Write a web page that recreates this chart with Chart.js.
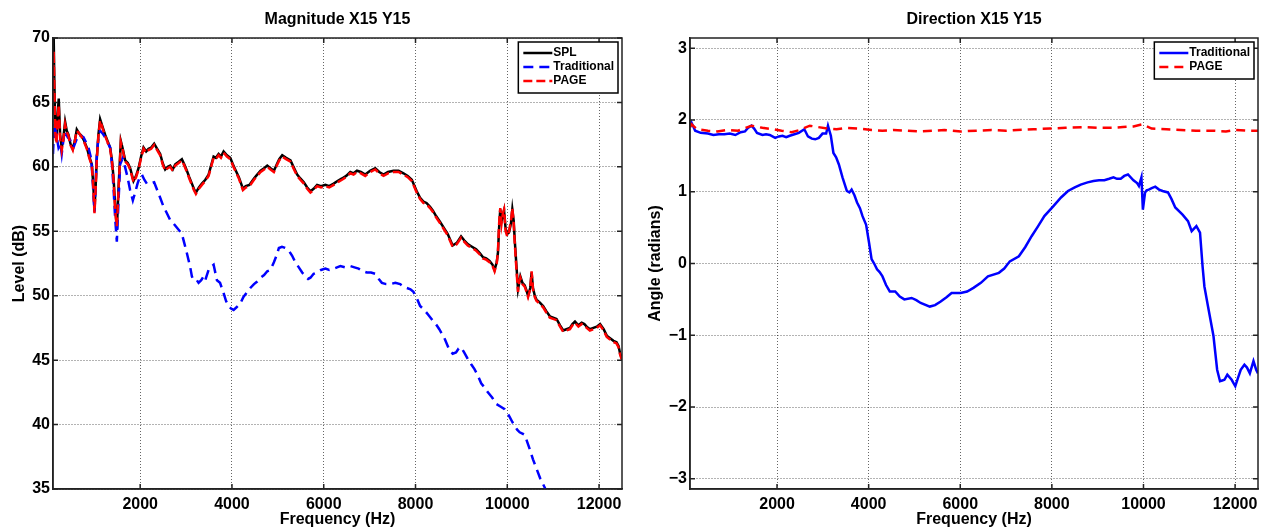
<!DOCTYPE html>
<html>
<head>
<meta charset="utf-8">
<script src="https://cdn.jsdelivr.net/npm/chart.js@4.4.1/dist/chart.umd.min.js"></script>
<style>
  body { margin: 0; background: #fff; }
  #wrap { position: relative; width: 1264px; height: 529px; }
  #wrap canvas { position: absolute; top: 0; }
</style>
</head>
<body>
<div id="wrap">
  <canvas id="mag" width="632" height="529" style="left:0"></canvas>
  <canvas id="dir" width="632" height="529" style="left:632px"></canvas>
</div>
<script>
// frequency tick labels shared by both panels
const freqTicks = [2000, 4000, 6000, 8000, 10000, 12000];

// ---- magnitude panel ----
const magFreq = [100, 115, 130, 150, 175, 200, 225, 255, 290, 325, 364, 400, 437, 480, 531, 575, 618, 670, 727, 780,
  837, 890, 946, 980, 1004, 1030, 1055, 1090, 1127, 1180, 1236, 1290, 1345, 1385, 1418, 1455, 1491, 1530, 1578, 1620,
  1673, 1730, 1782, 1855, 1910, 1964, 2020, 2073, 2130, 2182, 2240, 2305, 2370, 2436, 2490, 2545, 2600, 2654, 2710, 2764,
  2840, 2909, 2960, 3018, 3070, 3127, 3170, 3214, 3280, 3345, 3420, 3491, 3545, 3600, 3650, 3709, 3760, 3818, 3890, 3963,
  4020, 4072, 4150, 4239, 4300, 4380, 4480, 4550, 4624, 4700, 4769, 4840, 4914, 4978, 5030, 5095, 5180, 5276, 5340, 5421,
  5490, 5566, 5640, 5710, 5780, 5855, 5940, 6036, 6120, 6217, 6300, 6398, 6490, 6579, 6650, 6724, 6810, 6905, 7010, 7122,
  7210, 7303, 7400, 7520, 7630, 7738, 7830, 7919, 8027, 8100, 8172, 8240, 8317, 8380, 8445, 8540, 8628, 8700, 8810, 8900,
  8993, 9060, 9139, 9230, 9321, 9400, 9467, 9540, 9613, 9680, 9723, 9770, 9796, 9825, 9847, 9875, 9905, 9930, 9964, 10000,
  10037, 10080, 10110, 10140, 10161, 10200, 10234, 10260, 10285, 10330, 10380, 10420, 10453, 10500, 10530, 10560, 10600, 10635, 10700, 10781,
  10850, 10927, 11000, 11073, 11150, 11219, 11290, 11365, 11420, 11475, 11550, 11621, 11680, 11730, 11800, 11876, 11950, 12022, 12100, 12168,
  12240, 12314, 12380, 12424, 12460, 12500];

const splLevel = [65.5, 70.0, 66.5, 63.0, 62.0, 64.0, 65.3, 62.5, 61.5, 62.2, 63.5, 62.8, 62.5, 61.8, 61.4, 62.0, 62.9, 62.6, 62.4, 62.0,
  61.5, 60.8, 60.2, 58.5, 56.6, 58.5, 60.7, 62.5, 63.7, 63.1, 62.5, 62.0, 61.5, 60.5, 59.2, 57.0, 55.1, 58.5, 62.0, 61.4,
  60.5, 60.3, 59.9, 58.9, 59.3, 59.9, 60.8, 61.5, 61.2, 61.4, 61.5, 61.8, 61.4, 61.0, 60.3, 59.8, 60.0, 60.1, 59.8, 60.2,
  60.4, 60.6, 60.2, 59.7, 59.2, 58.7, 58.3, 58.0, 58.4, 58.7, 59.0, 59.4, 60.1, 60.8, 60.7, 61.0, 60.8, 61.2, 60.9, 60.7,
  60.2, 59.8, 59.2, 58.3, 58.5, 58.6, 59.1, 59.4, 59.7, 59.9, 60.1, 59.9, 59.7, 60.2, 60.6, 60.9, 60.7, 60.5, 60.0, 59.4,
  59.1, 58.8, 58.4, 58.1, 58.3, 58.6, 58.5, 58.6, 58.5, 58.7, 58.9, 59.1, 59.3, 59.6, 59.5, 59.7, 59.6, 59.4, 59.7, 59.9,
  59.6, 59.4, 59.6, 59.7, 59.7, 59.5, 59.3, 59.0, 58.1, 57.6, 57.3, 57.2, 56.9, 56.6, 56.2, 55.7, 55.2, 54.8, 53.9, 54.1,
  54.6, 54.3, 54.0, 53.8, 53.6, 53.3, 53.0, 52.9, 52.7, 52.4, 52.0, 52.6, 53.3, 55.5, 56.7, 55.8, 56.2, 56.6, 55.2, 54.8,
  54.9, 55.6, 56.7, 55.8, 54.4, 52.3, 50.5, 51.0, 51.5, 51.0, 50.8, 50.4, 50.0, 50.6, 51.8, 50.6, 50.0, 49.7, 49.5, 49.2,
  48.8, 48.4, 48.3, 48.2, 47.7, 47.3, 47.4, 47.5, 47.8, 48.0, 47.7, 47.9, 47.8, 47.6, 47.4, 47.5, 47.6, 47.8, 47.4, 46.9,
  46.7, 46.5, 46.4, 46.1, 45.5, 45.1];

const pageLevel = [65.2, 69.0, 66.0, 62.6, 61.8, 63.6, 64.8, 62.2, 61.3, 62.1, 63.3, 62.7, 62.4, 61.7, 61.3, 62.0, 62.8, 62.6, 62.3, 61.9,
  61.4, 60.7, 60.1, 58.3, 56.4, 58.4, 60.6, 62.4, 63.6, 63.0, 62.4, 61.9, 61.4, 60.4, 59.0, 56.6, 55.4, 58.3, 61.9, 61.3,
  60.4, 60.2, 59.8, 58.8, 59.2, 59.8, 60.7, 61.4, 61.1, 61.3, 61.4, 61.7, 61.3, 60.9, 60.2, 59.7, 59.9, 60.0, 59.7, 60.1,
  60.3, 60.5, 60.1, 59.6, 59.1, 58.6, 58.2, 57.9, 58.3, 58.6, 58.9, 59.3, 60.0, 60.7, 60.6, 60.9, 60.7, 61.1, 60.8, 60.6,
  60.1, 59.7, 59.1, 58.2, 58.4, 58.5, 59.0, 59.3, 59.6, 59.8, 60.0, 59.8, 59.6, 60.1, 60.5, 60.8, 60.6, 60.4, 59.9, 59.3,
  59.0, 58.7, 58.3, 58.0, 58.2, 58.5, 58.4, 58.5, 58.4, 58.6, 58.8, 59.0, 59.2, 59.5, 59.4, 59.6, 59.5, 59.3, 59.6, 59.8,
  59.5, 59.3, 59.5, 59.6, 59.6, 59.4, 59.2, 58.9, 58.0, 57.5, 57.2, 57.1, 56.8, 56.5, 56.1, 55.6, 55.1, 54.7, 53.8, 54.0,
  54.5, 54.2, 53.9, 53.7, 53.5, 53.2, 52.9, 52.8, 52.6, 52.3, 51.9, 52.5, 53.4, 55.8, 56.8, 55.6, 56.4, 56.7, 55.0, 54.6,
  55.0, 55.8, 56.8, 55.6, 54.2, 52.0, 50.3, 51.1, 51.4, 50.9, 50.7, 50.3, 49.9, 50.5, 51.9, 50.5, 49.9, 49.6, 49.4, 49.1,
  48.7, 48.3, 48.2, 48.1, 47.6, 47.2, 47.3, 47.4, 47.7, 47.9, 47.6, 47.8, 47.7, 47.5, 47.3, 47.4, 47.5, 47.7, 47.3, 46.8,
  46.6, 46.4, 46.3, 46.0, 45.4, 45.0];

const tradFreq = [100, 130, 160, 182, 220, 260, 290, 330, 364, 420, 473, 510, 546, 600, 655, 710, 764, 820, 873, 920,
  946, 975, 1004, 1030, 1055, 1090, 1127, 1180, 1236, 1290, 1345, 1385, 1418, 1455, 1491, 1530, 1564, 1622, 1670, 1724,
  1780, 1840, 1890, 1942, 1990, 2036, 2090, 2145, 2220, 2305, 2370, 2436, 2510, 2582, 2650, 2727, 2820, 2909, 2960, 3018,
  3091, 3127, 3164, 3236, 3273, 3330, 3382, 3418, 3491, 3564, 3600, 3673, 3740, 3818, 3870, 3927, 3980, 4036, 4100, 4182,
  4250, 4335, 4400, 4480, 4550, 4624, 4700, 4769, 4840, 4914, 4970, 5023, 5090, 5167, 5240, 5312, 5380, 5457, 5530, 5602,
  5660, 5710, 5780, 5855, 5940, 6036, 6120, 6217, 6290, 6362, 6470, 6579, 6670, 6760, 6850, 6941, 7030, 7122, 7200, 7267,
  7360, 7448, 7560, 7665, 7740, 7810, 7890, 7955, 8030, 8100, 8190, 8281, 8370, 8462, 8518, 8600, 8643, 8737, 8810, 8883,
  8940, 8993, 9060, 9139, 9210, 9285, 9360, 9431, 9500, 9577, 9670, 9759, 9850, 9942, 10000, 10051, 10110, 10161, 10215, 10270,
  10330, 10380, 10430, 10489, 10560, 10635, 10720, 10818, 10880];

const tradLevel = [61.0, 63.4, 62.8, 62.3, 61.5, 61.8, 61.0, 62.2, 62.8, 62.3, 62.1, 61.7, 61.5, 62.0, 62.5, 62.4, 62.3, 61.9, 61.5, 60.8,
  60.0, 58.3, 56.5, 58.8, 61.0, 62.2, 62.8, 62.6, 62.3, 61.9, 61.5, 60.2, 58.4, 56.0, 54.2, 57.5, 60.2, 60.7, 60.0, 59.2,
  58.2, 57.4, 58.0, 58.7, 59.2, 59.4, 59.0, 58.7, 58.7, 58.8, 58.2, 57.6, 56.9, 56.4, 55.9, 55.6, 55.2, 54.8, 54.1, 53.3,
  52.2, 51.5, 51.2, 51.2, 51.0, 51.2, 51.5, 51.2, 52.0, 52.3, 52.4, 51.2, 51.0, 50.2, 49.6, 49.2, 49.0, 48.9, 49.1, 49.4,
  49.9, 50.3, 50.6, 50.9, 51.1, 51.4, 51.6, 51.9, 52.0, 52.6, 53.1, 53.7, 53.8, 53.7, 53.5, 53.1, 52.6, 52.2, 51.8, 51.5,
  51.3, 51.4, 51.7, 51.8, 52.0, 52.1, 52.0, 52.1, 52.2, 52.3, 52.2, 52.3, 52.2, 52.1, 51.9, 51.8, 51.8, 51.7, 51.3, 51.0,
  50.9, 50.9, 51.0, 50.9, 50.7, 50.6, 50.5, 50.3, 49.8, 49.2, 48.9, 48.5, 48.1, 47.7, 47.4, 46.9, 46.6, 45.8, 45.5, 45.6,
  45.9, 46.0, 45.6, 45.1, 44.7, 44.3, 43.8, 43.2, 42.9, 42.5, 42.1, 41.6, 41.4, 41.2, 40.9, 40.6, 40.2, 39.9, 39.6, 39.4,
  39.3, 39.2, 38.7, 38.1, 37.3, 36.6, 35.8, 35.1, 34.5];

// ---- direction panel ----
const dirTradFreq = [100, 134, 213, 333, 491, 610, 730, 850, 968, 1090, 1206, 1300, 1365, 1444, 1500, 1563, 1682, 1760, 1841, 1960,
  2040, 2119, 2200, 2278, 2380, 2476, 2596, 2675, 2760, 2834, 2913, 2993, 3072, 3112, 3175, 3231, 3290, 3350, 3429, 3524,
  3580, 3628, 3690, 3747, 3810, 3866, 3945, 4009, 4064, 4120, 4183, 4240, 4302, 4380, 4461, 4580, 4680, 4779, 4938, 5040,
  5136, 5335, 5450, 5573, 5700, 5811, 6010, 6150, 6288, 6450, 6605, 6843, 6960, 7082, 7280, 7420, 7558, 7700, 7836, 8034,
  8200, 8352, 8500, 8630, 8780, 8908, 9030, 9146, 9250, 9345, 9420, 9503, 9580, 9662, 9781, 9860, 9900, 9955, 9987, 10035,
  10070, 10115, 10180, 10257, 10340, 10416, 10535, 10610, 10694, 10853, 10972, 11052, 11155, 11234, 11290, 11330, 11409, 11528, 11608, 11671,
  11720, 11767, 11830, 11925, 12004, 12060, 12123, 12203, 12260, 12322, 12401, 12460, 12500];

const dirTrad = [1.90, 1.96, 1.85, 1.82, 1.81, 1.79, 1.80, 1.80, 1.81, 1.79, 1.83, 1.84, 1.89, 1.92, 1.88, 1.82, 1.79, 1.80, 1.79, 1.75,
  1.77, 1.78, 1.76, 1.78, 1.80, 1.82, 1.87, 1.77, 1.74, 1.73, 1.75, 1.81, 1.81, 1.92, 1.78, 1.54, 1.48, 1.38, 1.20, 1.01,
  0.99, 1.03, 0.95, 0.85, 0.77, 0.66, 0.54, 0.29, 0.06, 0.00, -0.08, -0.12, -0.18, -0.30, -0.39, -0.39, -0.46, -0.50, -0.48, -0.51,
  -0.55, -0.60, -0.58, -0.53, -0.47, -0.41, -0.41, -0.39, -0.34, -0.27, -0.18, -0.13, -0.07, 0.03, 0.10, 0.23, 0.38, 0.52, 0.66, 0.80,
  0.92, 1.01, 1.06, 1.10, 1.13, 1.15, 1.16, 1.16, 1.18, 1.20, 1.18, 1.18, 1.22, 1.24, 1.16, 1.12, 1.08, 1.20, 0.75, 0.99,
  1.02, 1.03, 1.05, 1.07, 1.03, 1.01, 0.99, 0.90, 0.78, 0.68, 0.59, 0.45, 0.52, 0.43, -0.04, -0.32, -0.60, -1.01, -1.48, -1.64,
  -1.63, -1.62, -1.55, -1.62, -1.71, -1.60, -1.48, -1.41, -1.45, -1.53, -1.36, -1.48, -1.53];

const dirPageFreq = [100, 134, 253, 491, 700, 888, 1150, 1444, 1680, 1920, 2100, 2318, 2500, 2715, 2900, 3112, 3300, 3509, 3800, 4064,
  4300, 4540, 4800, 5097, 5400, 5653, 6010, 6350, 6685, 7000, 7240, 7600, 7955, 8300, 8670, 9000, 9305, 9550, 9781, 9979,
  10178, 10500, 10813, 11150, 11528, 11800, 12004, 12250, 12500];

const dirPage = [1.90, 1.94, 1.87, 1.85, 1.84, 1.86, 1.85, 1.92, 1.89, 1.87, 1.85, 1.83, 1.86, 1.92, 1.90, 1.88, 1.87, 1.89, 1.88, 1.86,
  1.85, 1.86, 1.85, 1.84, 1.85, 1.86, 1.84, 1.85, 1.86, 1.85, 1.86, 1.87, 1.88, 1.89, 1.90, 1.89, 1.89, 1.90, 1.91, 1.94,
  1.88, 1.87, 1.86, 1.85, 1.85, 1.84, 1.86, 1.85, 1.85];

const pts = (xs, ys) => xs.map((x, i) => ({ x: x, y: ys[i] }));
const minus = v => String(v).replace('-', '\u2212');

Chart.defaults.font.family = '"Liberation Sans", Arial, Helvetica, sans-serif';
Chart.defaults.font.weight = 'bold';
Chart.defaults.color = '#000';

// box around axes, inner tick marks, and a MATLAB-like legend
const frame = {
  id: 'frame',
  afterDraw(chart) {
    const { ctx, chartArea: a, scales } = chart;
    ctx.save();
    ctx.strokeStyle = '#222';
    ctx.lineWidth = 1.5;
    ctx.strokeRect(a.left, a.top, a.right - a.left, a.bottom - a.top);
    ctx.beginPath();
    scales.x.ticks.forEach(t => {
      const px = scales.x.getPixelForValue(t.value);
      ctx.moveTo(px, a.bottom); ctx.lineTo(px, a.bottom - 5);
      ctx.moveTo(px, a.top); ctx.lineTo(px, a.top + 5);
    });
    scales.y.ticks.forEach(t => {
      const py = scales.y.getPixelForValue(t.value);
      ctx.moveTo(a.left, py); ctx.lineTo(a.left + 5, py);
      ctx.moveTo(a.right, py); ctx.lineTo(a.right - 5, py);
    });
    ctx.stroke();

    // legend
    const sets = chart.data.datasets;
    ctx.font = 'bold 12px "Liberation Sans", Arial, sans-serif';
    const tw = Math.max(...sets.map(d => ctx.measureText(d.label).width));
    const w = 36 + tw + 3, rowH = 14, h = sets.length * rowH + 9;
    const bx = a.right - 4 - w, by = a.top + 4;
    ctx.fillStyle = '#fff';
    ctx.fillRect(bx, by, w, h);
    ctx.lineWidth = 1.5;
    ctx.strokeStyle = '#000';
    ctx.strokeRect(bx, by, w, h);
    sets.forEach((d, i) => {
      const y = by + 11 + i * rowH;
      ctx.beginPath();
      ctx.setLineDash(d.borderDash || []);
      ctx.strokeStyle = d.borderColor;
      ctx.lineWidth = d.borderWidth;
      ctx.moveTo(bx + 5, y); ctx.lineTo(bx + 34, y);
      ctx.stroke();
      ctx.setLineDash([]);
      ctx.fillStyle = '#000';
      ctx.textBaseline = 'middle';
      ctx.fillText(d.label, bx + 35, y);
    });
    ctx.restore();
  }
};

const gridStyle = { color: 'rgba(0,0,0,0.6)', lineWidth: 1, drawTicks: false };

function makeChart(id, title, yTitle, yOpts, yWidth, yTitlePad, padRight, datasets) {
  return new Chart(document.getElementById(id), {
    type: 'line',
    data: { datasets: datasets },
    options: {
      responsive: false,
      animation: false,
      layout: { padding: { left: 0, right: padRight, top: 0, bottom: 0 } },
      elements: { point: { radius: 0 }, line: { tension: 0 } },
      plugins: {
        legend: { display: false },
        tooltip: { enabled: false },
        title: {
          display: true, text: title, fullSize: false,
          font: { size: 16, weight: 'bold' }, padding: { top: 9.5, bottom: 9.3 }
        }
      },
      scales: {
        x: {
          type: 'linear', min: 100, max: 12500,
          grid: gridStyle,
          border: { display: true, color: '#222', width: 1.5, dash: [1, 2] },
          afterBuildTicks: s => { s.ticks = freqTicks.map(v => ({ value: v })); },
          ticks: { autoSkip: false, maxRotation: 0, padding: 6,
            font: { size: 16, weight: 'bold' }, callback: v => String(v) },
          title: { display: true, text: 'Frequency (Hz)', font: { size: 16, weight: 'bold' }, padding: { top: 0, bottom: 0 } },
          afterFit: s => { s.height = 40; }
        },
        y: {
          ...yOpts,
          grid: gridStyle,
          border: { display: true, color: '#222', width: 1.5, dash: [1, 2] },
          ticks: { ...yOpts.ticks, includeBounds: false, autoSkip: false, padding: 3,
            font: { size: 16, weight: 'bold' }, callback: minus },
          title: { display: true, text: yTitle, font: { size: 16, weight: 'bold' }, padding: { top: yTitlePad, bottom: 0 } },
          afterFit: s => { s.width = yWidth; }
        }
      }
    },
    plugins: [frame]
  });
}

makeChart('mag', 'Magnitude X15 Y15', 'Level (dB)',
  { min: 35, max: 70, ticks: { stepSize: 5 } }, 53, 10, 10, [
    { label: 'SPL', data: pts(magFreq, splLevel), borderColor: '#000000', borderWidth: 2.5, order: 2 },
    { label: 'Traditional', data: pts(tradFreq, tradLevel), borderColor: '#0000ff', borderWidth: 2.5, borderDash: [10, 6], order: 1 },
    { label: 'PAGE', data: pts(magFreq, pageLevel), borderColor: '#ff0000', borderWidth: 2.5, borderDash: [9, 4], order: 0 }
  ]);

makeChart('dir', 'Direction X15 Y15', 'Angle (radians)',
  { min: -Math.PI, max: Math.PI, ticks: { stepSize: 1 } }, 58, 14, 6, [
    { label: 'Traditional', data: pts(dirTradFreq, dirTrad), borderColor: '#0000ff', borderWidth: 2.5, order: 1 },
    { label: 'PAGE', data: pts(dirPageFreq, dirPage), borderColor: '#ff0000', borderWidth: 2.5, borderDash: [9, 6], order: 0 }
  ]);
</script>
</body>
</html>
